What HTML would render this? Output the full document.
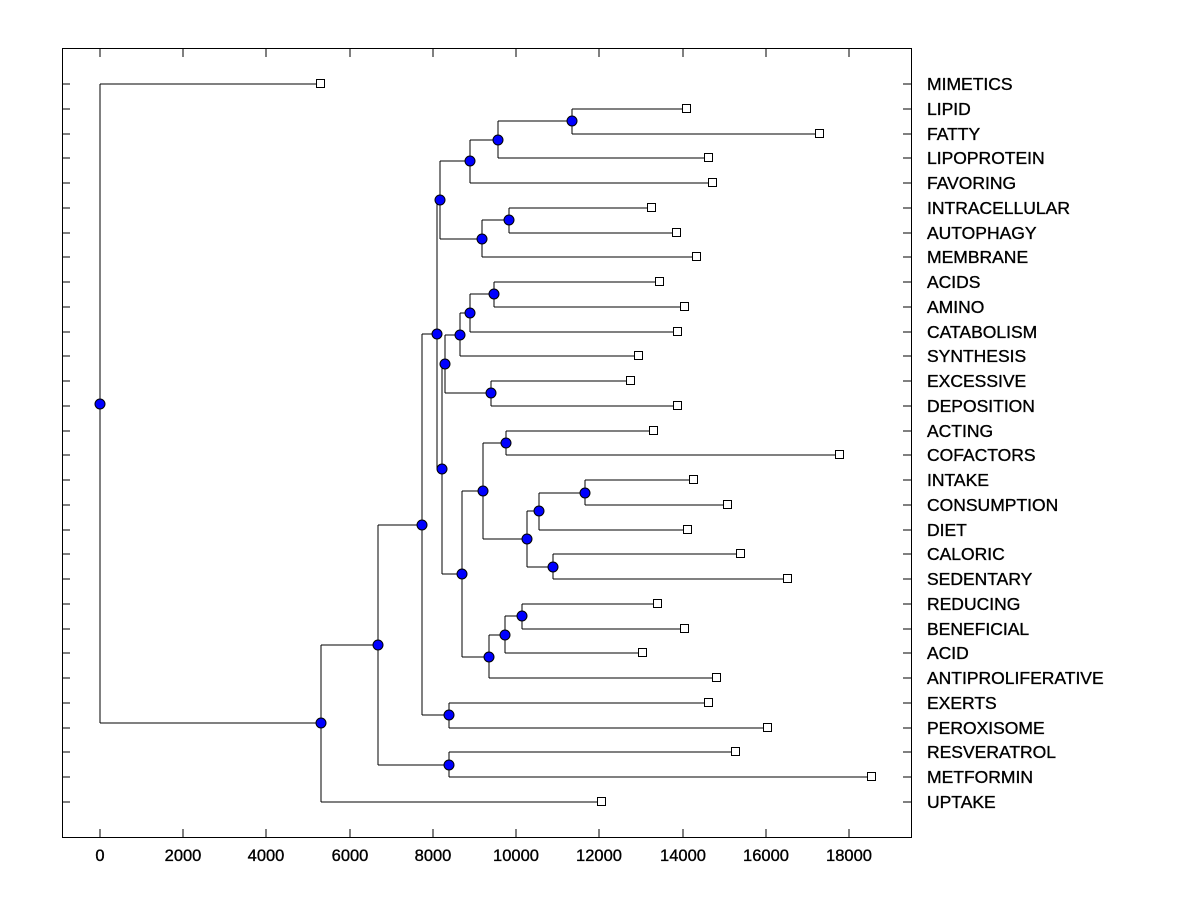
<!DOCTYPE html>
<html><head><meta charset="utf-8"><style>body{margin:0;background:#fff}svg{display:block}</style></head>
<body>
<svg id="s" width="1200" height="900" xmlns="http://www.w3.org/2000/svg" font-family="Liberation Sans, sans-serif">
<rect x="62.5" y="48.5" width="849" height="789" fill="none" stroke="#000" stroke-width="1"/>
<g id="g" stroke="#000" stroke-width="1" fill="none" shape-rendering="crispEdges"></g>
<g id="m"></g>
<g id="t" font-size="17.5" fill="#000" stroke="#000" stroke-width="0.35"></g>
</svg>
<script>
var names=["MIMETICS","LIPID","FATTY","LIPOPROTEIN","FAVORING","INTRACELLULAR","AUTOPHAGY","MEMBRANE","ACIDS","AMINO","CATABOLISM","SYNTHESIS","EXCESSIVE","DEPOSITION","ACTING","COFACTORS","INTAKE","CONSUMPTION","DIET","CALORIC","SEDENTARY","REDUCING","BENEFICIAL","ACID","ANTIPROLIFERATIVE","EXERTS","PEROXISOME","RESVERATROL","METFORMIN","UPTAKE"];
var lx=[321,687,820,709,713,652,677,697,660,685,678,639,631,678,654,840,694,728,688,741,788,658,685,643,717,709,768,736,872,602];
function Y(i){return 84+i*718/29;}
var L=[];for(var i=0;i<30;i++)L.push({x:lx[i],y:Y(i),leaf:1});
function N(x,a,b){return {x:x,y:(a.y+b.y)/2,a:a,b:b};}
var A=N(572,L[1],L[2]),B=N(498,A,L[3]),C=N(470,B,L[4]),D=N(509,L[5],L[6]),E=N(482,D,L[7]),F=N(440,C,E);
var G=N(494,L[8],L[9]),H=N(470,G,L[10]),I=N(460,H,L[11]),J=N(491,L[12],L[13]),K=N(445,I,J);
var Lq=N(506,L[14],L[15]),M=N(585,L[16],L[17]),Nn=N(539,M,L[18]),O=N(553,L[19],L[20]),P=N(527,Nn,O),Q=N(483,Lq,P);
var R=N(522,L[21],L[22]),S=N(505,R,L[23]),T=N(489,S,L[24]),U=N(462,Q,T),V=N(442,K,U),W=N(437,F,V);
var X=N(449,L[25],L[26]),Yn=N(422,W,X),Z=N(449,L[27],L[28]),AA=N(378,Yn,Z),AB=N(321,AA,L[29]),root=N(100,L[0],AB);
var g=document.getElementById('g'),m=document.getElementById('m'),t=document.getElementById('t'),ns="http://www.w3.org/2000/svg";
function el(p,tag,at){var e=document.createElementNS(ns,tag);for(var k in at)e.setAttribute(k,at[k]);p.appendChild(e);return e;}
var nodes=[];
function draw(n){if(n.leaf)return;nodes.push(n);
el(g,'path',{d:'M'+n.x+','+Math.round(n.a.y)+'V'+Math.round(n.b.y)+'M'+n.x+','+Math.round(n.a.y)+'H'+n.a.x+'M'+n.x+','+Math.round(n.b.y)+'H'+n.b.x});
draw(n.a);draw(n.b);}
draw(root);
for(var i=0;i<30;i++){var y=Math.round(Y(i));
el(g,'path',{d:'M62,'+y+'H70M903,'+y+'H911'});
el(m,'rect',{x:L[i].x-4.5,y:y-4.5,width:8,height:8,fill:'#fff',stroke:'#000'});
var tx=el(t,'text',{x:927,y:y+6});tx.textContent=names[i];}
nodes.forEach(function(n){el(m,'circle',{cx:n.x,cy:Math.round(n.y),r:5,fill:'#0000ff',stroke:'#000'});});
for(var v=0;v<=18000;v+=2000){var x=Math.round(100+v*749/18000);
el(g,'path',{d:'M'+x+',829V837M'+x+',49V57'});
var tt=el(t,'text',{x:x,y:861,'text-anchor':'middle','font-size':'16.5'});tt.textContent=v;}
</script>
</body></html>
